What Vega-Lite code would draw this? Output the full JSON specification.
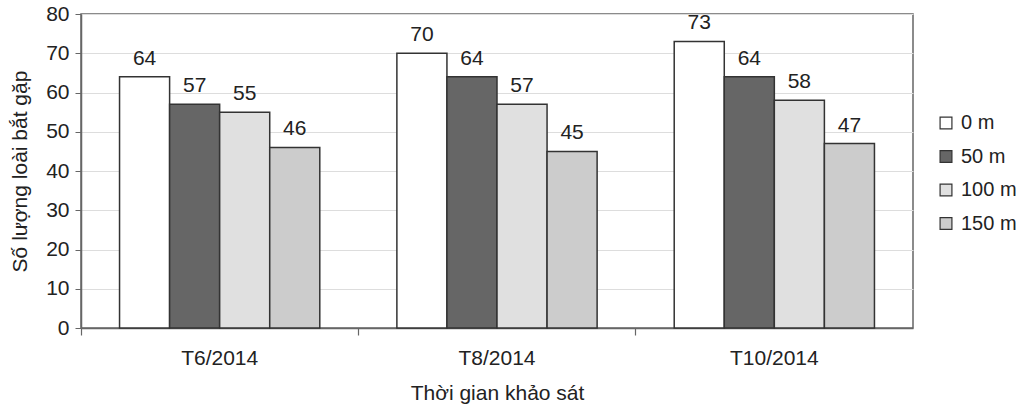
{
  "$schema": "https://vega.github.io/schema/vega-lite/v6.json",
  "autosize": "none",
  "width": 832,
  "height": 314,
  "padding": {"left": 81, "top": 14, "right": 109, "bottom": 82},
  "background": "white",
  "config": {
    "font": "Liberation Sans",
    "view": {"stroke": "#666666", "strokeWidth": 1.5},
    "axis": {"labelFont": "Liberation Sans", "titleFont": "Liberation Sans", "labelColor": "#222", "titleColor": "#222", "titleFontWeight": "normal"}
  },
  "data": {
    "values": [
      {"time": "T6/2014", "dist": "0 m", "n": 64},
      {"time": "T6/2014", "dist": "50 m", "n": 57},
      {"time": "T6/2014", "dist": "100 m", "n": 55},
      {"time": "T6/2014", "dist": "150 m", "n": 46},
      {"time": "T8/2014", "dist": "0 m", "n": 70},
      {"time": "T8/2014", "dist": "50 m", "n": 64},
      {"time": "T8/2014", "dist": "100 m", "n": 57},
      {"time": "T8/2014", "dist": "150 m", "n": 45},
      {"time": "T10/2014", "dist": "0 m", "n": 73},
      {"time": "T10/2014", "dist": "50 m", "n": 64},
      {"time": "T10/2014", "dist": "100 m", "n": 58},
      {"time": "T10/2014", "dist": "150 m", "n": 47}
    ]
  },
  "encoding": {
    "x": {"field": "time", "type": "nominal", "sort": ["T6/2014", "T8/2014", "T10/2014"],
      "scale": {"paddingInner": 0, "paddingOuter": 0},
      "axis": {"title": "Thời gian khảo sát", "titleFontSize": 21, "labelFontSize": 21, "labelAngle": 0, "labelAlign": "center", "labelBaseline": "top", "bandPosition": 0, "labelDx": 138.7,
        "domainColor": "#666", "domainWidth": 1.5, "ticks": true, "tickColor": "#666", "tickSize": 7, "tickWidth": 1.2, "labelPadding": 12, "titlePadding": 14}},
    "xOffset": {"field": "dist", "type": "nominal", "sort": ["0 m", "50 m", "100 m", "150 m"],
      "scale": {"paddingInner": 0, "paddingOuter": 0.77}},
    "y": {"field": "n", "type": "quantitative", "scale": {"domain": [0, 80]},
      "axis": {"title": "Số lượng loài bắt gặp", "titleFontSize": 21, "labelFontSize": 21, "values": [0,10,20,30,40,50,60,70,80],
        "grid": true, "gridColor": "#dddddd", "gridWidth": 1.2, "domainColor": "#666", "domainWidth": 1.5, "tickColor": "#666", "tickSize": 6, "labelPadding": 6, "titlePadding": 15}}
  },
  "layer": [
    {
      "mark": {"type": "bar", "stroke": "#333333", "strokeWidth": 1.5},
      "encoding": {
        "fill": {"field": "dist", "type": "nominal", "sort": ["0 m", "50 m", "100 m", "150 m"],
          "scale": {"domain": ["0 m", "50 m", "100 m", "150 m"], "range": ["#ffffff", "#666666", "#e0e0e0", "#cccccc"]},
          "legend": {"title": null, "orient": "none", "legendX": 855, "legendY": 99, "symbolType": "square", "symbolSize": 140, "symbolStrokeColor": "#333", "symbolStrokeWidth": 1.2, "labelFontSize": 20, "labelColor": "#222", "labelFont": "Liberation Sans", "rowPadding": 13.5, "labelOffset": 5}
        }
      }
    },
    {
      "mark": {"type": "text", "baseline": "bottom", "dy": -8, "fontSize": 21, "color": "#222"},
      "encoding": {"text": {"field": "n", "type": "quantitative"}}
    }
  ]
}
